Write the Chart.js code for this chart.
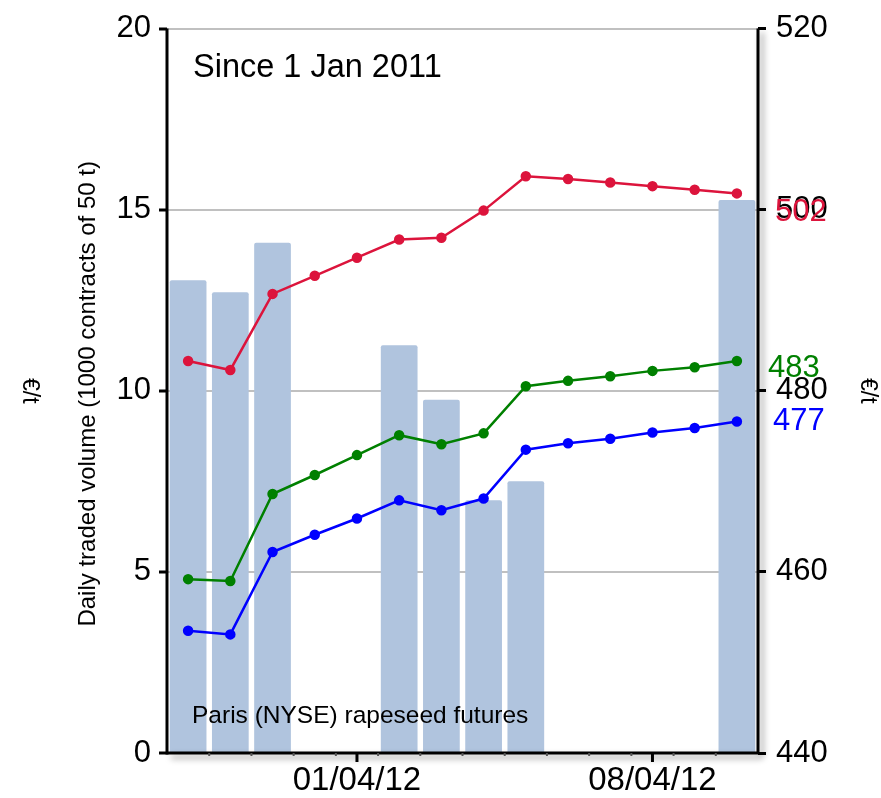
<!DOCTYPE html>
<html>
<head>
<meta charset="utf-8">
<script src="https://cdn.jsdelivr.net/npm/chart.js@4"></script>
<style>
  html, body { margin: 0; padding: 0; background: #fff; }
  #wrap { width: 881px; height: 798px; }
</style>
</head>
<body>
<div id="wrap"><canvas id="myChart" width="881" height="798"></canvas></div>
<script>
const days = ["28/03/12", "29/03/12", "30/03/12", "31/03/12", "01/04/12", "02/04/12", "03/04/12",
  "04/04/12", "05/04/12", "06/04/12", "07/04/12", "08/04/12", "09/04/12", "10/04/12"];
const shownDays = ["01/04/12", "08/04/12"];

// traded volume, 1000 contracts
const volume = [13.05, 12.72, 14.09, null, null, 11.26, 9.75, 6.98, 7.5, null, null, null, null, 15.27];

// prices in €/t
const redPrice = [483.3, 482.3, 490.7, 492.7, 494.7, 496.7, 496.9, 499.9, 503.7, 503.4, 503.0, 502.6, 502.2, 501.8];
const greenPrice = [459.2, 459.0, 468.6, 470.7, 472.9, 475.1, 474.1, 475.3, 480.5, 481.1, 481.6, 482.2, 482.6, 483.3];
const bluePrice = [453.5, 453.1, 462.2, 464.1, 465.9, 467.9, 466.8, 468.1, 473.5, 474.2, 474.7, 475.4, 475.9, 476.6];

const volTicks = [0, 5, 10, 15, 20];
const priceTicks = [440, 460, 480, 500, 520];

const FONT = "'Liberation Sans', Arial, sans-serif";

// axes with a shadow, x tick marks and the free texts
const decor = {
  id: "decor",
  afterDatasetsDraw(chart) {
    const ctx = chart.ctx;
    const a = chart.chartArea;
    const x = chart.scales.x;

    ctx.save();
    ctx.strokeStyle = "#000";
    ctx.lineWidth = 3;
    ctx.shadowColor = "rgba(0,0,0,0.4)";
    ctx.shadowBlur = 6;
    ctx.shadowOffsetX = 4;
    ctx.shadowOffsetY = 4;
    ctx.beginPath();
    ctx.moveTo(a.left, a.bottom);
    ctx.lineTo(a.right, a.bottom);
    ctx.moveTo(a.right, a.top);
    ctx.lineTo(a.right, a.bottom);
    ctx.stroke();
    ctx.shadowColor = "transparent";
    ctx.beginPath();
    ctx.moveTo(a.left, a.top);
    ctx.lineTo(a.left, a.bottom + 1.5);
    ctx.stroke();
    ctx.restore();

    ctx.save();
    // minor ticks between days
    ctx.strokeStyle = "#555";
    ctx.lineWidth = 2;
    for (let i = 1; i < days.length; i++) {
      const px = (x.getPixelForValue(i - 1) + x.getPixelForValue(i)) / 2;
      ctx.beginPath();
      ctx.moveTo(px, a.bottom);
      ctx.lineTo(px, a.bottom + 3);
      ctx.stroke();
    }
    // major ticks on labelled days
    ctx.strokeStyle = "#000";
    ctx.lineWidth = 3;
    shownDays.forEach((d) => {
      const px = x.getPixelForValue(days.indexOf(d));
      ctx.beginPath();
      ctx.moveTo(px, a.bottom);
      ctx.lineTo(px, a.bottom + 9);
      ctx.stroke();
    });

    ctx.fillStyle = "#000";
    ctx.textBaseline = "middle";
    ctx.textAlign = "left";
    ctx.font = "32.5px " + FONT;
    ctx.fillText("Since 1 Jan 2011", a.left + 26, 68);
    ctx.font = "24.5px " + FONT;
    ctx.fillText("Paris (NYSE) rapeseed futures", a.left + 25, 716);

    // end values at the right
    const y1 = chart.scales.y1;
    const ends = [
      { v: redPrice, c: "#dc143c", dx: 17, dy: 19 },
      { v: greenPrice, c: "#008000", dx: 10, dy: 8 },
      { v: bluePrice, c: "#0000ff", dx: 15, dy: 0 },
    ];
    ctx.font = "31px " + FONT;
    ends.forEach((e) => {
      const last = e.v[e.v.length - 1];
      ctx.fillStyle = e.c;
      ctx.fillText(String(Math.round(last)), a.right + e.dx, y1.getPixelForValue(last) + e.dy);
    });

    // axis titles
    const mid = (a.top + a.bottom) / 2;
    ctx.fillStyle = "#000";
    ctx.textAlign = "center";
    ctx.font = "24px " + FONT;
    ctx.save();
    ctx.translate(88, mid + 3);
    ctx.rotate(-Math.PI / 2);
    ctx.fillText("Daily traded volume (1000 contracts of 50 t)", 0, 0);
    ctx.restore();

    ctx.font = "23px " + FONT;
    [29, 867].forEach((tx) => {
      ctx.save();
      ctx.translate(tx, mid);
      ctx.rotate(Math.PI / 2);
      ctx.fillText("€/t", 0, 0);
      ctx.restore();
    });
    ctx.restore();
  },
};

new Chart(document.getElementById("myChart"), {
  type: "bar",
  data: {
    labels: days,
    datasets: [
      {
        type: "line",
        label: "red",
        data: redPrice,
        yAxisID: "y1",
        borderColor: "#dc143c",
        backgroundColor: "#dc143c",
        borderWidth: 2.5,
        pointRadius: 4,
        tension: 0,
        order: 1,
      },
      {
        type: "line",
        label: "green",
        data: greenPrice,
        yAxisID: "y1",
        borderColor: "#008000",
        backgroundColor: "#008000",
        borderWidth: 2.5,
        pointRadius: 4,
        tension: 0,
        order: 1,
      },
      {
        type: "line",
        label: "blue",
        data: bluePrice,
        yAxisID: "y1",
        borderColor: "#0000ff",
        backgroundColor: "#0000ff",
        borderWidth: 2.5,
        pointRadius: 4,
        tension: 0,
        order: 1,
      },
      {
        label: "volume",
        data: volume,
        yAxisID: "y",
        backgroundColor: "#b0c4de",
        borderRadius: 2,
        borderSkipped: "bottom",
        barPercentage: 0.87,
        categoryPercentage: 1,
        order: 2,
      },
    ],
  },
  options: {
    responsive: false,
    animation: false,
    layout: { padding: { top: 25, left: 0, right: 0, bottom: 0 } },
    plugins: {
      legend: { display: false },
      tooltip: { enabled: false },
    },
    scales: {
      x: {
        offset: true,
        grid: { display: false, drawTicks: false },
        border: { display: false },
        ticks: {
          autoSkip: false,
          maxRotation: 0,
          padding: 8,
          color: "#000",
          font: { family: FONT, size: 33 },
          callback: (v, i) => (shownDays.includes(days[i]) ? days[i] : ""),
        },
        afterFit: (s) => { s.height = 45; },
      },
      y: {
        position: "left",
        min: 0,
        max: 20,
        afterBuildTicks: (s) => { s.ticks = volTicks.map((v) => ({ value: v })); },
        grid: { color: "#c0c0c0", lineWidth: 2, tickColor: "#000", tickLength: 8, tickWidth: 3 },
        border: { display: false },
        ticks: { padding: 8, color: "#000", font: { family: FONT, size: 31 } },
        afterFit: (s) => { s.width = 167; },
      },
      y1: {
        position: "right",
        min: 440,
        max: 520,
        afterBuildTicks: (s) => { s.ticks = priceTicks.map((v) => ({ value: v })); },
        grid: { drawOnChartArea: false, tickColor: "#000", tickLength: 8, tickWidth: 3 },
        border: { display: false },
        ticks: { padding: 10, color: "#000", font: { family: FONT, size: 31 } },
        afterFit: (s) => { s.width = 123; },
      },
    },
  },
  plugins: [decor],
});
</script>
</body>
</html>
